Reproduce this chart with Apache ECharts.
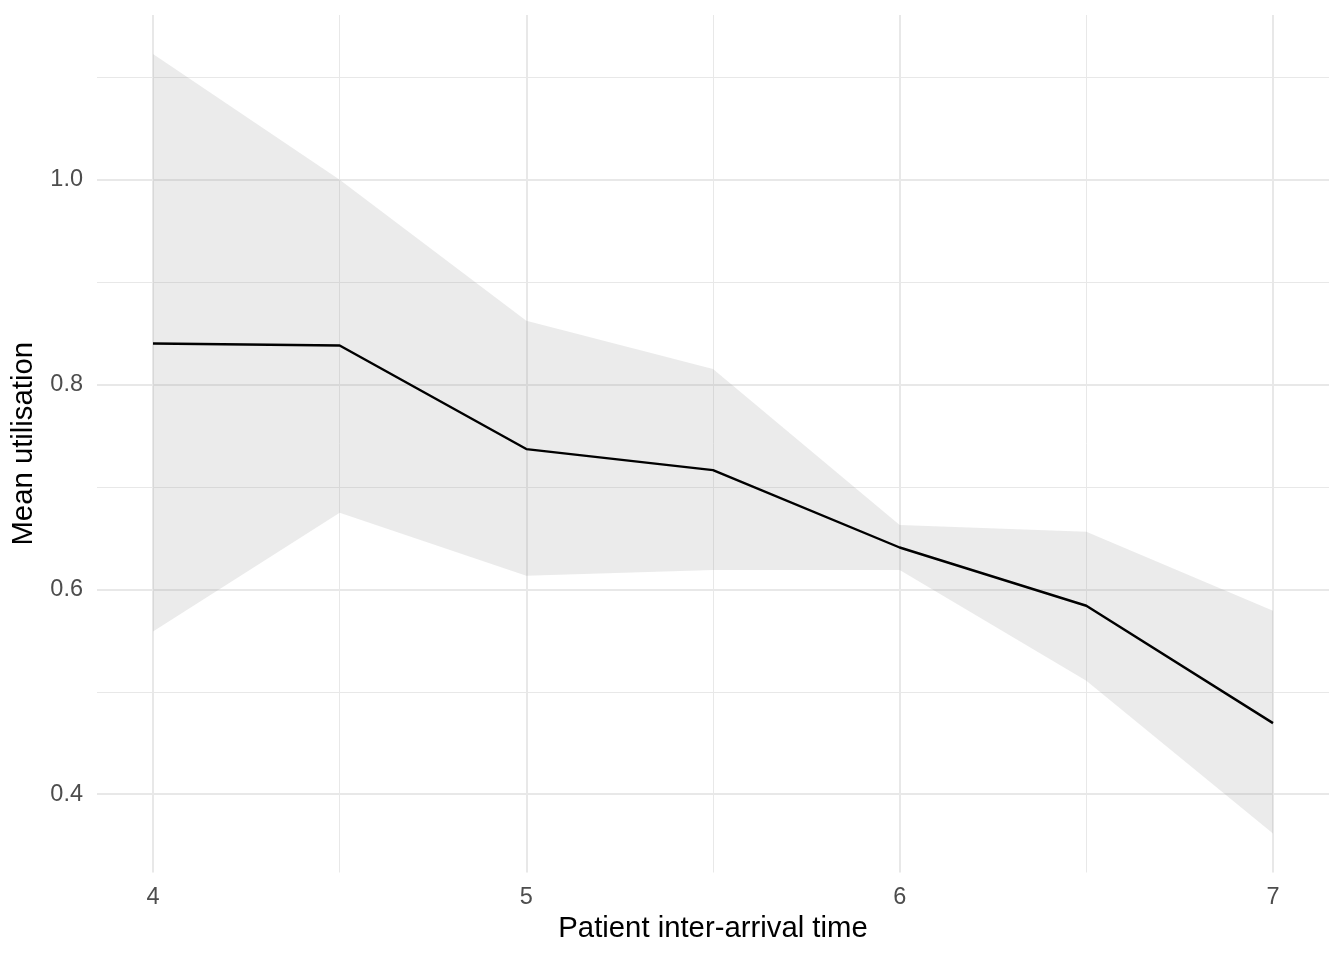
<!DOCTYPE html>
<html><head><meta charset="utf-8">
<script src="https://cdn.jsdelivr.net/npm/echarts@6/dist/echarts.min.js"></script>
<style>html,body{margin:0;padding:0;background:#fff}#c{width:1344px;height:960px}</style>
</head><body><div id="c"></div>
<script>
// ---- data ----
const interArrival = [4, 4.5, 5, 5.5, 6, 6.5, 7];
const meanUtil = [0.8401, 0.8382, 0.7370, 0.7165, 0.6409, 0.5840, 0.4694];
const upperCI  = [1.1228, 1.0000, 0.8623, 0.8151, 0.6628, 0.6563, 0.5791];
const lowerCI  = [0.5589, 0.6748, 0.6133, 0.6188, 0.6188, 0.5107, 0.3616];
const xTicks = [4, 5, 6, 7];
const xMinor = [4.5, 5.5, 6.5];
const yTicks = [0.4, 0.6, 0.8, 1.0];
const yMinor = [0.5, 0.7, 0.9, 1.1];
const xTitle = 'Patient inter-arrival time';
const yTitle = 'Mean utilisation';

// ---- build ----
const FONT = '"Liberation Sans", Arial, sans-serif';
const xr = [Math.min(...interArrival), Math.max(...interArrival)];
const yr = [Math.min(...lowerCI), Math.max(...upperCI)];
const xPad = (xr[1] - xr[0]) * 0.05, yPad = (yr[1] - yr[0]) * 0.05;

const pairs = arr => interArrival.map((x, i) => [x, arr[i]]);
const bandRows = interArrival.map((x, i) => [x, lowerCI[i], upperCI[i]]);

const GRID = '#e8e8e8';
const gridLines = []
  .concat(xTicks.map(v => ({ xAxis: v, lineStyle: { width: 2, color: GRID, type: 'solid' } })))
  .concat(xMinor.map(v => ({ xAxis: v, lineStyle: { width: 1, color: GRID, type: 'solid' } })))
  .concat(yTicks.map(v => ({ yAxis: v, lineStyle: { width: 2, color: GRID, type: 'solid' } })))
  .concat(yMinor.map(v => ({ yAxis: v, lineStyle: { width: 1, color: GRID, type: 'solid' } })));

const chart = echarts.init(document.getElementById('c'), null, { renderer: 'canvas' });
chart.setOption({
  animation: false,
  backgroundColor: '#ffffff',
  textStyle: { fontFamily: FONT },
  grid: { left: 97, right: 15, top: 15, bottom: 87.5, containLabel: false, outerBoundsMode: 'none' },
  xAxis: {
    type: 'value',
    min: xr[0] - xPad, max: xr[1] + xPad,
    axisLine: { show: false }, axisTick: { show: false }, splitLine: { show: false },
    axisLabel: { customValues: xTicks, formatter: v => String(v), fontSize: 23.5, color: '#4d4d4d', margin: 13, fontFamily: FONT },
    name: xTitle, nameLocation: 'middle', nameGap: 40,
    nameTextStyle: { fontSize: 29.3, color: '#000000', fontFamily: FONT }
  },
  yAxis: {
    type: 'value',
    min: yr[0] - yPad, max: yr[1] + yPad,
    axisLine: { show: false }, axisTick: { show: false }, splitLine: { show: false },
    axisLabel: { customValues: yTicks, formatter: v => v.toFixed(1), fontSize: 23.5, color: '#4d4d4d', margin: 14, fontFamily: FONT },
    name: yTitle, nameLocation: 'middle', nameGap: 59,
    nameTextStyle: { fontSize: 29.3, color: '#000000', fontFamily: FONT }
  },
  series: [
    {
      name: 'band', type: 'custom', data: bandRows, silent: true, z: 2,
      encode: { x: 0, y: [1, 2] },
      renderItem: (params, api) => {
        if (params.dataIndex !== 0) return null;
        const top = interArrival.map((x, i) => api.coord([x, upperCI[i]]));
        const bottom = interArrival.map((x, i) => api.coord([x, lowerCI[i]])).reverse();
        return {
          type: 'polygon',
          shape: { points: top.concat(bottom) },
          style: { fill: 'rgba(153,153,153,0.2)' }
        };
      }
    },
    {
      name: 'mean', type: 'line', data: pairs(meanUtil),
      symbol: 'none', lineStyle: { color: '#000000', width: 2.4 }, silent: true, z: 3,
      markLine: { silent: true, symbol: ['none', 'none'], label: { show: false }, z: 1, animation: false, data: gridLines }
    }
  ]
});
</script></body></html>
